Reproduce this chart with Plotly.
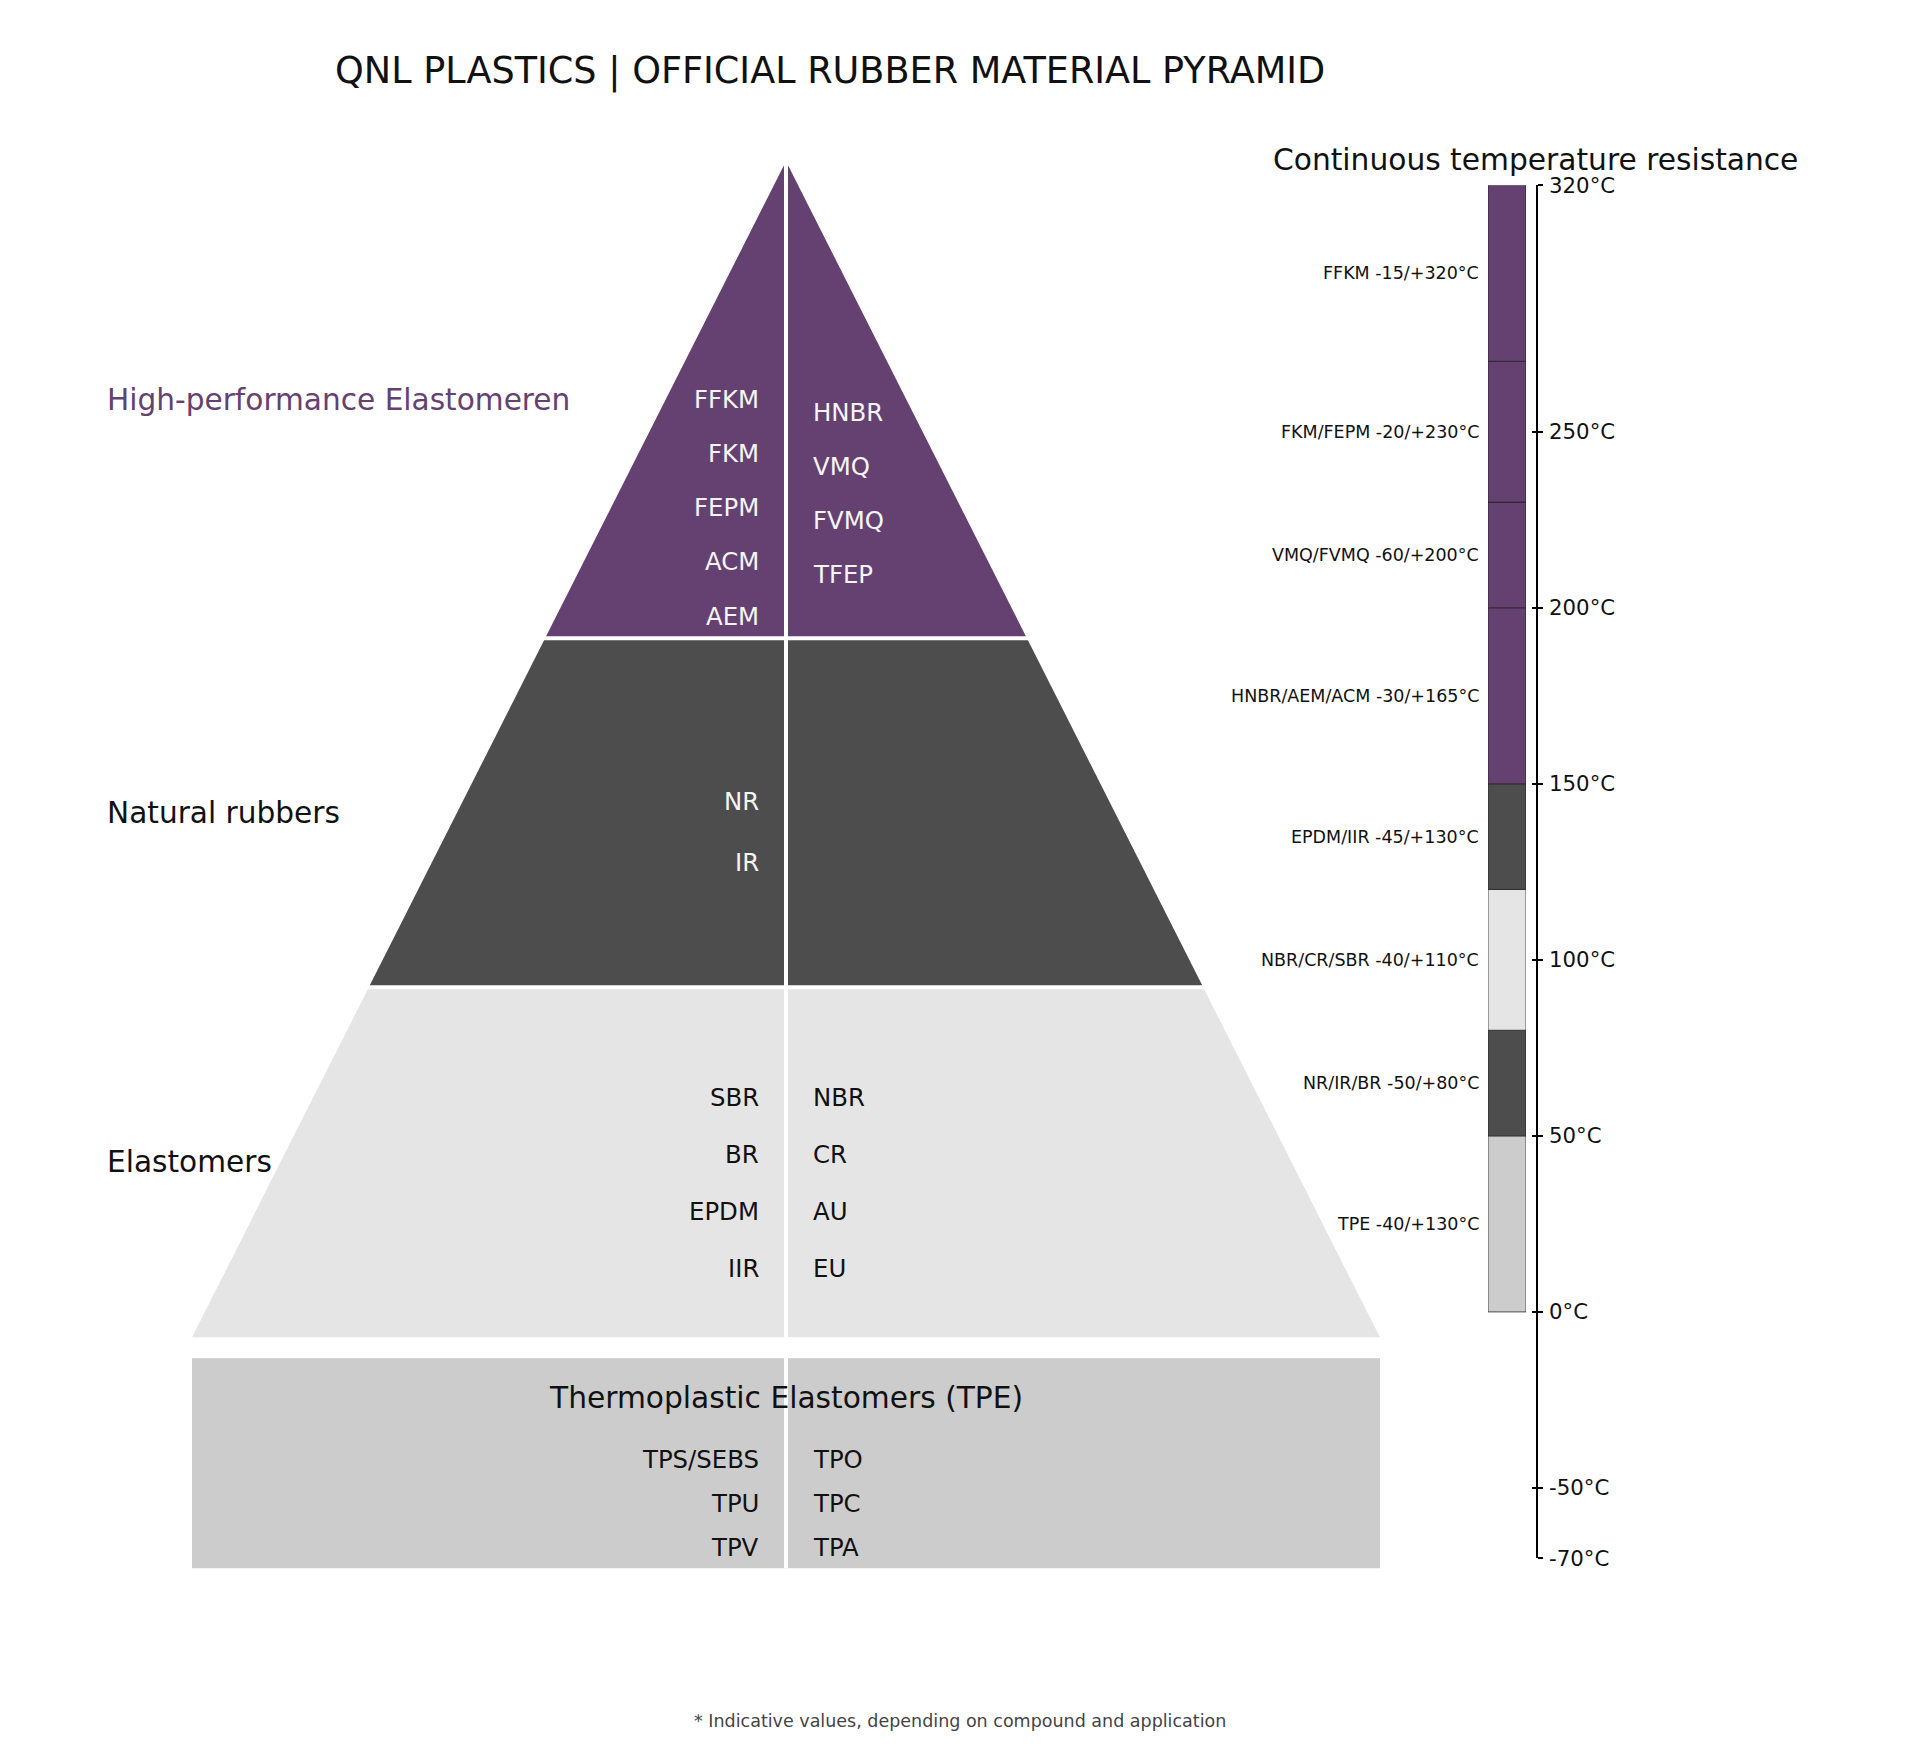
import plotly.graph_objects as go

# ---------------- data ----------------
TITLE = "QNL PLASTICS | OFFICIAL RUBBER MATERIAL PYRAMID"
band_names = ["High-performance Elastomeren", "Natural rubbers", "Elastomers"]
hp_left = ["FFKM", "FKM", "FEPM", "ACM", "AEM"]
hp_right = ["HNBR", "VMQ", "FVMQ", "TFEP"]
nat_left = ["NR", "IR"]
nat_right = []
ela_left = ["SBR", "BR", "EPDM", "IIR"]
ela_right = ["NBR", "CR", "AU", "EU"]
tpe_title = "Thermoplastic Elastomers (TPE)"
tpe_left = ["TPS/SEBS", "TPU", "TPV"]
tpe_right = ["TPO", "TPC", "TPA"]

temp_labels = ["TPE -40/+130°C", "NR/IR/BR -50/+80°C", "NBR/CR/SBR -40/+110°C",
               "EPDM/IIR -45/+130°C", "HNBR/AEM/ACM -30/+165°C", "VMQ/FVMQ -60/+200°C",
               "FKM/FEPM -20/+230°C", "FFKM -15/+320°C"]
temp_low = [0, 50, 80, 120, 150, 200, 230, 270]
temp_high = [50, 80, 120, 150, 200, 230, 270, 320]
temp_ticks = [320, 250, 200, 150, 100, 50, 0, -50, -70]
temp_range = [-70, 320]
cb_title = "Continuous temperature resistance"
footnote = "* Indicative values, depending on compound and application"

# ---------------- styles / layout ----------------
PURPLE = "#654172"
DARK = "#4D4D4D"
LIGHT = "#E5E5E5"
TPEGRAY = "#CCCCCC"
FONT = "DejaVu Sans"
seg_colors = [TPEGRAY, DARK, LIGHT, DARK, PURPLE, PURPLE, PURPLE, PURPLE]

W, H = 1920, 1745
BODY = 8            # default page body margin
SY, DY = 1.01462, -12.05   # vertical calibration of layout units -> page pixels
CX = 786
APEX_Y, BASE_Y, HALF_BASE = 160, 1336, 594
band_bounds = [160, 637, 986, 1336]
band_colors = [PURPLE, DARK, LIGHT]
band_label_colors = [PURPLE, "#111111", "#111111"]
TPE_TOP, TPE_BOT = 1357, 1567
LABEL_X = 105
COL_OFF = 25


def hw(y):
    return HALF_BASE * (y - APEX_Y) / (BASE_Y - APEX_Y)


def py(m):
    """layout unit -> pixel inside the plot div (from top)"""
    return SY * m + DY - BODY


fig = go.Figure()
shapes = []
annotations = []

# pyramid bands
for i in range(3):
    y0, y1 = band_bounds[i], band_bounds[i + 1]
    pts = [(CX - hw(y0), y0), (CX + hw(y0), y0), (CX + hw(y1), y1), (CX - hw(y1), y1)]
    path = "M " + " L ".join(f"{x:.2f},{y:.2f}" for x, y in pts) + " Z"
    shapes.append(dict(type="path", path=path, xref="x", yref="y",
                       fillcolor=band_colors[i], line=dict(width=0), layer="below"))
# TPE block
shapes.append(dict(type="rect", xref="x", yref="y", x0=CX - HALF_BASE, x1=CX + HALF_BASE,
                   y0=TPE_TOP, y1=TPE_BOT, fillcolor=TPEGRAY, line=dict(width=0), layer="below"))
# white separators
for yb in band_bounds[1:3]:
    shapes.append(dict(type="line", xref="x", yref="y", x0=CX - hw(yb) - 4, x1=CX + hw(yb) + 4,
                       y0=yb, y1=yb, line=dict(color="white", width=4)))
shapes.append(dict(type="line", xref="x", yref="y", x0=CX, x1=CX, y0=APEX_Y - 2, y1=TPE_BOT,
                   line=dict(color="white", width=4)))

# band labels
for i, name in enumerate(band_names):
    ym = (band_bounds[i] + band_bounds[i + 1]) / 2
    annotations.append(dict(x=LABEL_X, y=ym, xref="x", yref="y", text=name, showarrow=False,
                            xanchor="left", yanchor="middle",
                            font=dict(family=FONT, size=29.6, color=band_label_colors[i])))

# material labels: (names, side, first y, step, colour)
mat_layout = [
    (hp_left, "L", 398, 54.2, "#F5F5F5"),
    (hp_right, "R", 411, 54.2, "#F5F5F5"),
    (nat_left, "L", 800, 61, "#F5F5F5"),
    (nat_right, "R", 800, 61, "#F5F5F5"),
    (ela_left, "L", 1096, 57, "#111111"),
    (ela_right, "R", 1096, 57, "#111111"),
    (tpe_left, "L", 1458, 44, "#111111"),
    (tpe_right, "R", 1458, 44, "#111111"),
]
for names, side, y0, step, col in mat_layout:
    for k, nm in enumerate(names):
        annotations.append(dict(
            x=CX - COL_OFF if side == "L" else CX + COL_OFF, y=y0 + k * step,
            xref="x", yref="y", text=nm, showarrow=False,
            xanchor="right" if side == "L" else "left", yanchor="middle",
            font=dict(family=FONT, size=24.4, color=col)))
annotations.append(dict(x=CX, y=1396.5, xref="x", yref="y", text=tpe_title, showarrow=False,
                        xanchor="center", yanchor="middle",
                        font=dict(family=FONT, size=29.7, color="#111111")))

# titles / footnote
annotations.append(dict(x=830, y=70, xref="x", yref="y", text=TITLE, showarrow=False,
                        xanchor="center", yanchor="middle",
                        font=dict(family=FONT, size=36.6, color="#111111")))
annotations.append(dict(x=1535, y=158, xref="x", yref="y", text=cb_title, showarrow=False,
                        xanchor="center", yanchor="middle",
                        font=dict(family=FONT, size=29.7, color="#111111")))
annotations.append(dict(x=960, y=1720, xref="x", yref="y", text=footnote, showarrow=False,
                        xanchor="center", yanchor="middle",
                        font=dict(family=FONT, size=17.5, color="#444444")))

# temperature bar
fig.add_trace(go.Bar(
    x=[0] * len(temp_low), y=[h - l for l, h in zip(temp_low, temp_high)], base=temp_low,
    xaxis="x2", yaxis="y2", width=1.0,
    marker=dict(color=seg_colors, line=dict(color="rgba(30,30,30,0.75)", width=1)),
    hoverinfo="skip", showlegend=False))
for lbl, lo, hi in zip(temp_labels, temp_low, temp_high):
    annotations.append(dict(x=1481, y=(lo + hi) / 2, xref="x", yref="y2", text=lbl,
                            showarrow=False, xanchor="right", yanchor="middle",
                            font=dict(family=FONT, size=17.5, color="#111111")))

# invisible trace to activate layout axes
fig.add_trace(go.Scatter(x=[BODY, W], y=[100, H - 100], mode="markers",
                         marker=dict(opacity=0), hoverinfo="skip", showlegend=False))

Y_TOP_U = (BODY - DY) / SY
Y_BOT_U = (H + BODY - DY) / SY
AX_POS = (1537 - BODY) / W
Y_DOM = [1 - py(1557) / H, 1 - py(184) / H]
fig.update_layout(
    width=W, height=H, margin=dict(l=0, r=0, t=0, b=0),
    paper_bgcolor="white", plot_bgcolor="rgba(0,0,0,0)",
    barmode="overlay", showlegend=False,
    xaxis=dict(range=[BODY, W + BODY], domain=[0, 1], visible=False, fixedrange=True),
    yaxis=dict(range=[Y_BOT_U, Y_TOP_U], domain=[0, 1], visible=False, fixedrange=True),
    xaxis2=dict(domain=[(1488 - BODY) / W, (1526 - BODY) / W], range=[-0.5, 0.5],
                visible=False, anchor="y2"),
    yaxis2=dict(domain=Y_DOM, range=temp_range, anchor="free", position=AX_POS, side="right",
                showline=True, linecolor="black", linewidth=1.5, ticks="outside", ticklen=5,
                tickwidth=1.5, tickcolor="black", tickvals=temp_ticks,
                ticktext=[f"{t}°C" for t in temp_ticks], showgrid=False, zeroline=False,
                tickfont=dict(family=FONT, size=21.3, color="#111111"), ticklabelstandoff=2),
    yaxis3=dict(domain=Y_DOM, range=temp_range, anchor="free", position=AX_POS, side="right",
                overlaying="y2", showline=False, ticks="inside", ticklen=5, tickwidth=1.5,
                tickcolor="black", tickvals=temp_ticks, showticklabels=False,
                showgrid=False, zeroline=False),
    shapes=shapes, annotations=annotations,
)
fig.add_trace(go.Scatter(x=[None], y=[None], xaxis="x2", yaxis="y3", showlegend=False,
                         hoverinfo="skip"))

fig.write_html("out.html", config={"displayModeBar": False})
